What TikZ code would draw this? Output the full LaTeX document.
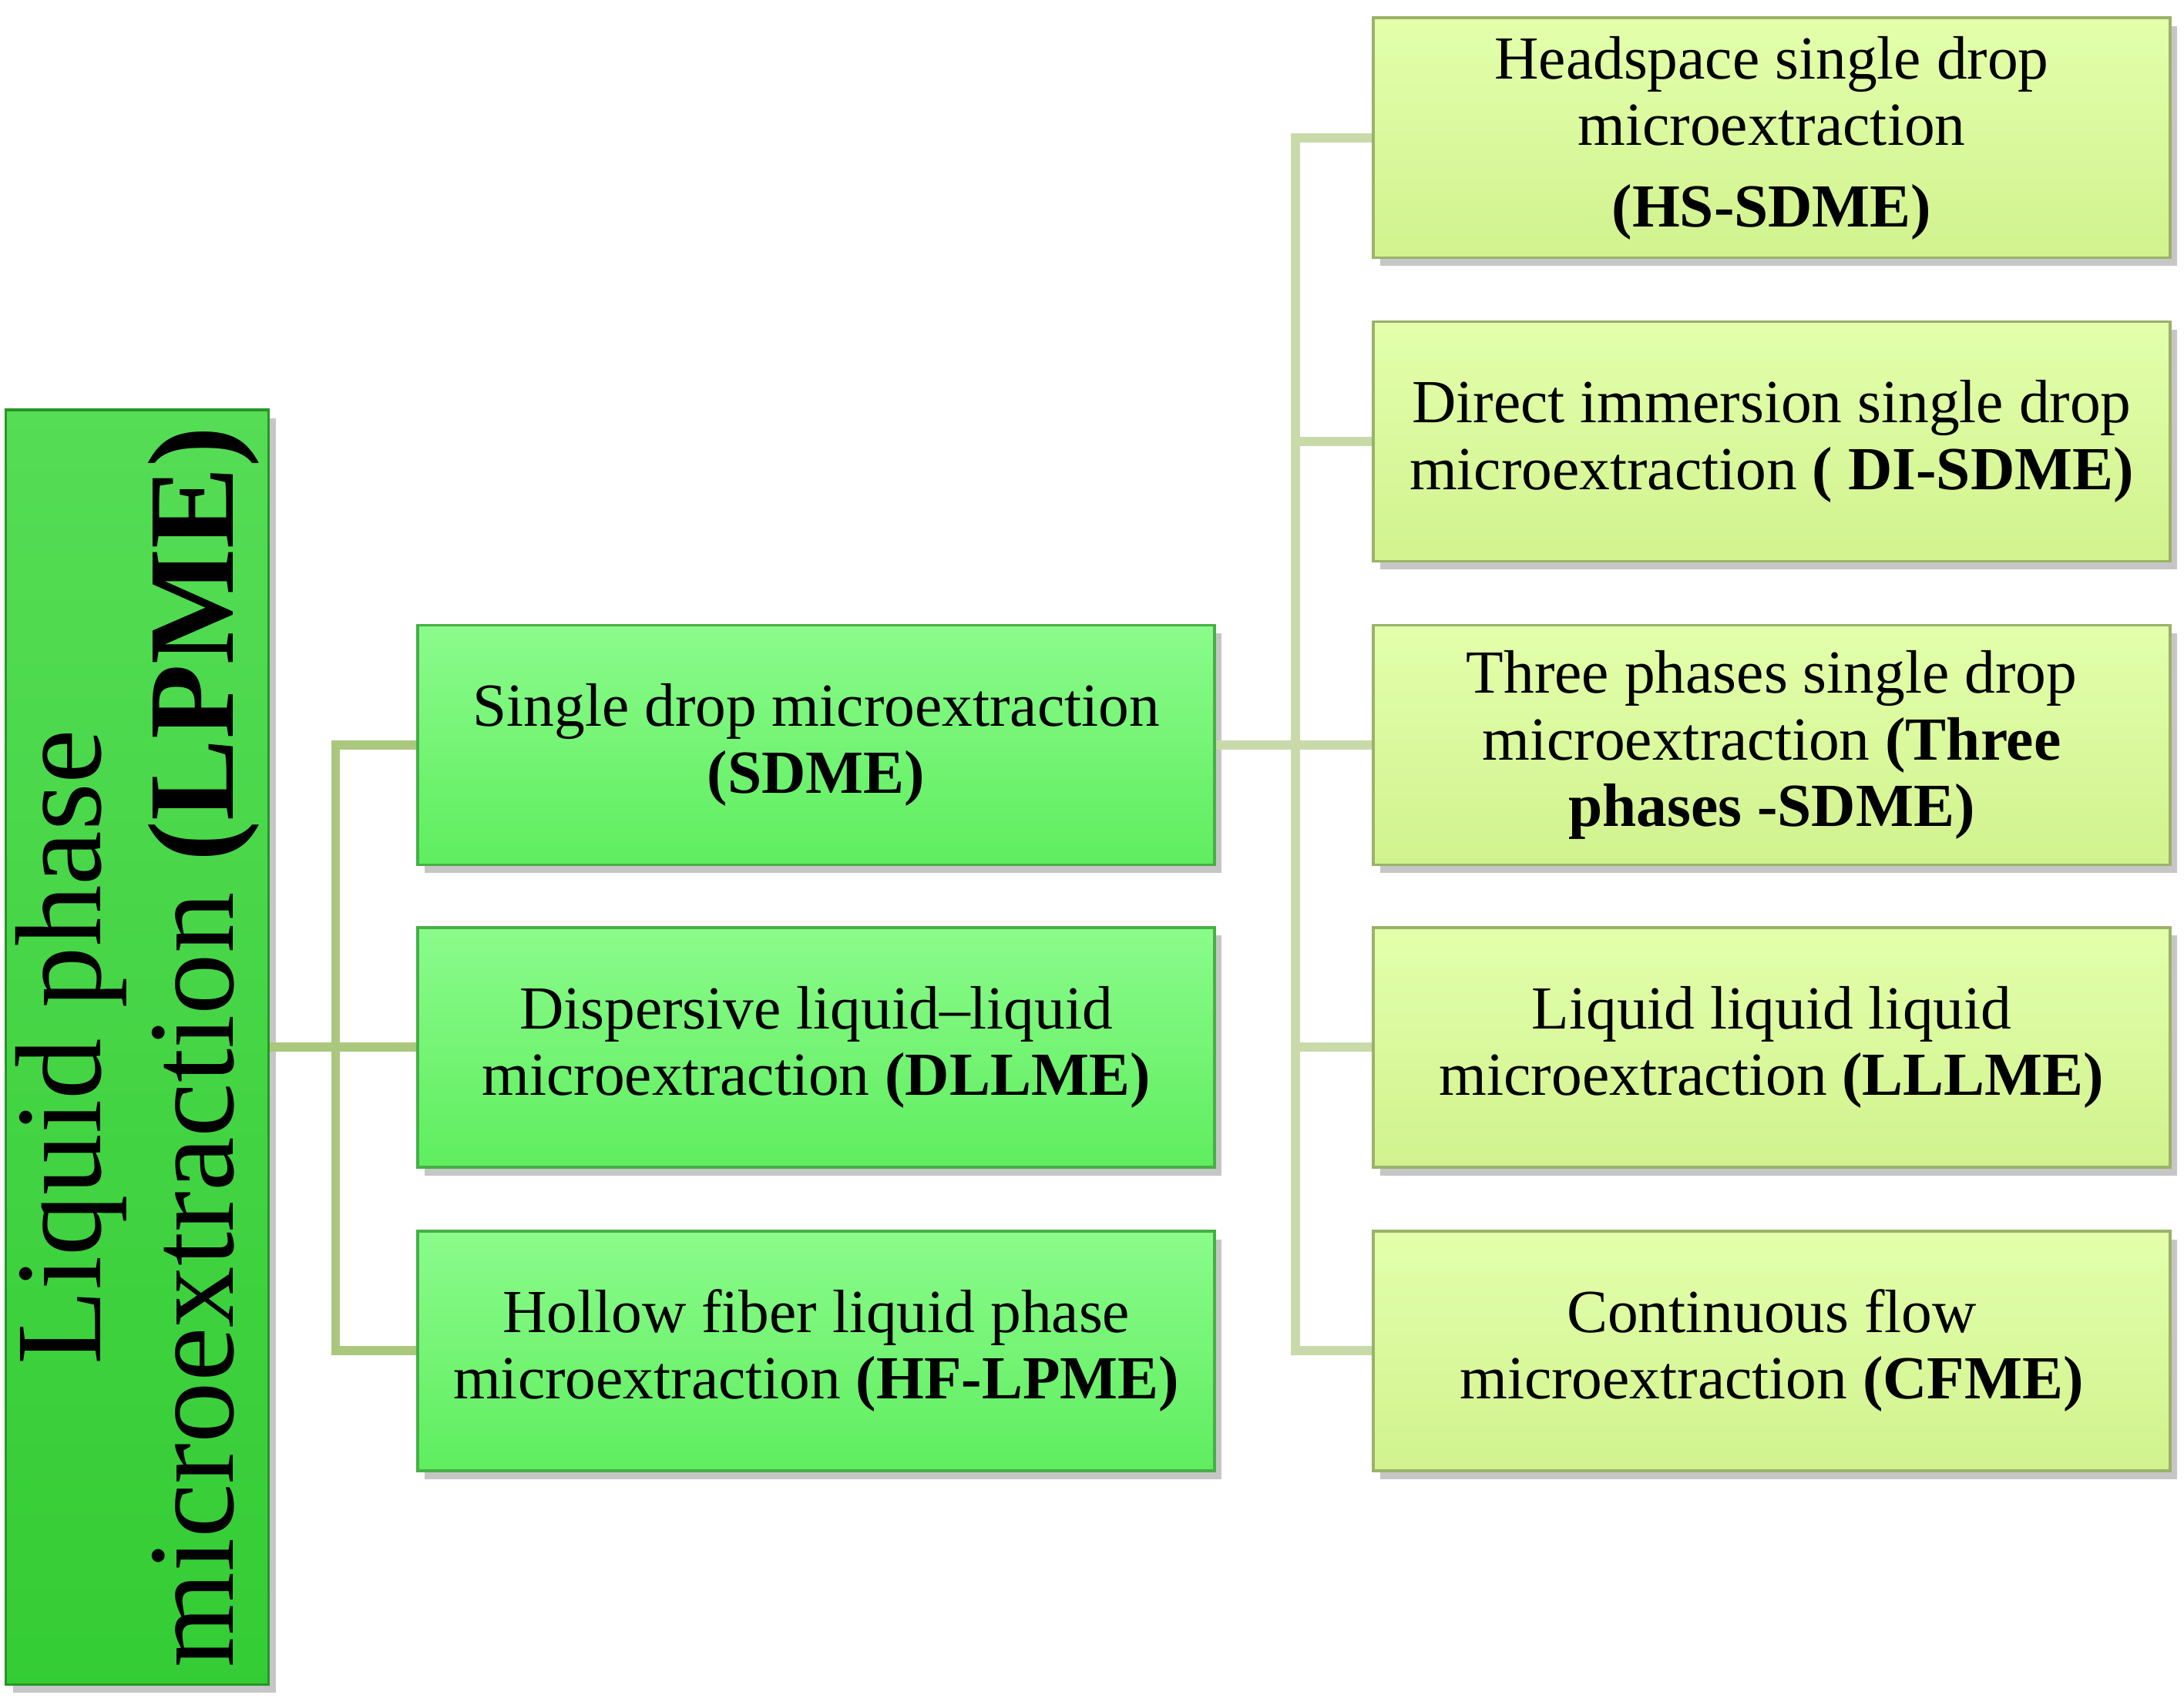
\documentclass[tikz,border=0pt]{standalone}
\usepackage{fontspec}
\setmainfont{Liberation Serif}
\usetikzlibrary{shadows}
\definecolor{rootgreen}{RGB}{55,215,55}
\definecolor{midgreen}{RGB}{100,250,100}
\definecolor{leafgreen}{RGB}{220,255,150}
\definecolor{linkA}{RGB}{170,200,125}
\definecolor{linkB}{RGB}{200,218,170}
\tikzset{
  box/.style={draw=#1!70!black, line width=0.6pt, inner sep=2pt, align=center,
    minimum width=5.72cm, minimum height=1.72cm,
    drop shadow={shadow xshift=0.5mm, shadow yshift=-0.6mm, opacity=0.45},
    font=\fontsize{12.5}{13.6}\selectfont},
  mid/.style={box=midgreen, top color=midgreen!75!white, bottom color=midgreen!95!black},
  leaf/.style={box=leafgreen, top color=leafgreen!80!white, bottom color=leafgreen!95!black},
  linkone/.style={draw=linkA, line width=1.8pt},
  linktwo/.style={draw=linkB, line width=1.8pt}
}
\begin{document}
\begin{tikzpicture}[x=0.01cm,y=-0.01cm]
\useasboundingbox (0,0) rectangle (1568,1224);
\node[box=rootgreen, top color=rootgreen!85!white, bottom color=rootgreen!95!black,
  minimum width=9.15cm, minimum height=1.73cm, rotate=90,
  font=\fontsize{25}{27}\selectfont] (root) at (98.5,752)
  {Liquid phase\\ microextraction \textbf{(LPME)}};
\node[mid] (sdme) at (586,535) {Single drop microextraction\\ \textbf{(SDME)}};
\node[mid] (dllme) at (586,752) {Dispersive liquid–liquid\\ microextraction \textbf{(DLLME)}};
\node[mid] (hf) at (586,970) {Hollow fiber liquid phase\\ microextraction \textbf{(HF-LPME)}};
\node[leaf] (hs) at (1272,99) {Headspace single drop\\ microextraction\\[3pt] \textbf{(HS-SDME)}};
\node[leaf] (di) at (1272,317) {Direct immersion single drop\\ microextraction \textbf{( DI-SDME)}};
\node[leaf] (tp) at (1272,535) {Three phases single drop\\ microextraction \textbf{(Three}\\ \textbf{phases -SDME)}};
\node[leaf] (ll) at (1272,752) {Liquid liquid liquid\\ microextraction \textbf{(LLLME)}};
\node[leaf] (cf) at (1272,970) {Continuous flow\\ microextraction \textbf{(CFME)}};
\coordinate (j1) at (241,752);
\coordinate (j2) at (930,535);
\draw[linkone] (root.south) -- (j1);
\draw[linkone] (sdme.west) -| (j1) |- (hf.west);
\draw[linkone] (j1) -- (dllme.west);
\draw[linktwo] (sdme.east) -- (tp.west);
\draw[linktwo] (hs.west) -| (j2) |- (cf.west);
\draw[linktwo] (j2 |- di.west) -- (di.west);
\draw[linktwo] (j2 |- ll.west) -- (ll.west);
\end{tikzpicture}
\end{document}
